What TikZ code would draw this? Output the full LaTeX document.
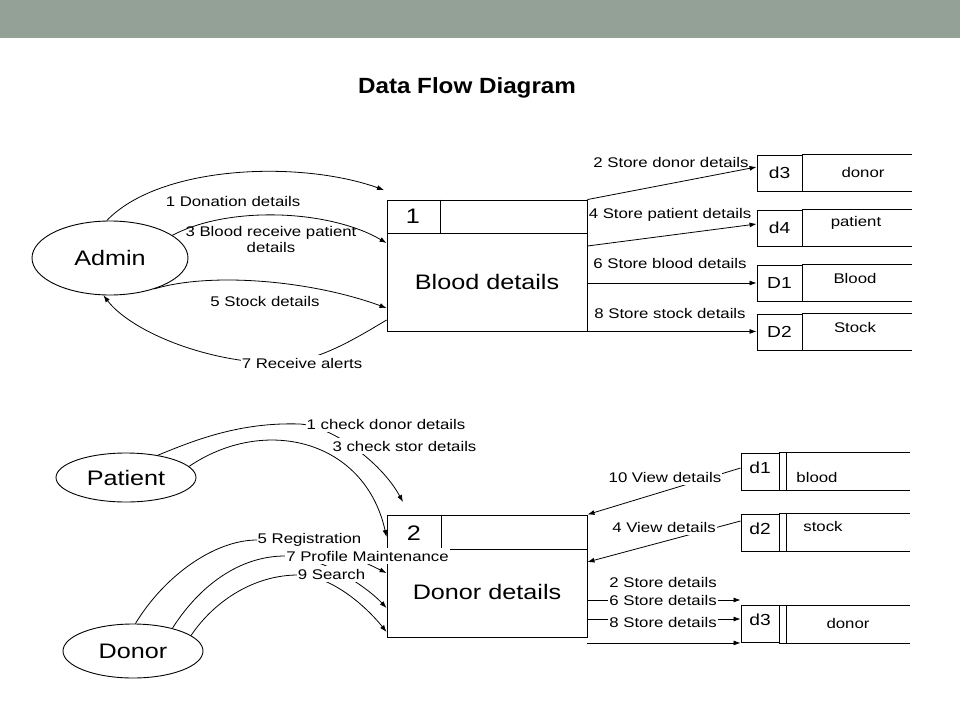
\documentclass[tikz,border=0pt]{standalone}
\usepackage{fontspec}
\setmainfont{Liberation Sans}[FakeStretch=1.2]
\newfontfamily\titlefont{Liberation Sans}[FakeStretch=1.1]
\usetikzlibrary{arrows.meta,shapes.geometric,backgrounds}
\definecolor{BarGreen}{RGB}{147,161,151}

\begin{document}
\begin{tikzpicture}[
        x=1pt, y=-1pt,
        >={Latex[length=7pt,width=5pt]},
        proc/.style={draw, line width=0.9pt, minimum width=200pt, inner sep=0pt},
        ent/.style={draw, ellipse, line width=0.9pt, inner sep=0pt, font=\fontsize{21}{24}\selectfont},
        storeid/.style={draw, line width=0.9pt, inner sep=0pt, font=\fontsize{16}{18}\selectfont},
        big/.style={font=\fontsize{21}{24}\selectfont},
        lab/.style={font=\fontsize{14}{16}\selectfont, inner sep=1pt},
        labw/.style={lab, fill=white, inner ysep=2.5pt},
        flow/.style={->, line width=0.8pt},
        edge/.style={line width=0.9pt}
    ]
    \useasboundingbox (0,0) rectangle (960,720);
    \node[font=\titlefont\fontsize{22}{24}\selectfont\bfseries] (title) at (467,88) {Data Flow Diagram};

    % top part
    \node[ent, minimum width=156pt, minimum height=74pt] (admin) at (110,258) {Admin};
    \node[proc, minimum height=131pt] (box1) at (487,265.5) {};
    \draw[edge] ([yshift=-34pt]box1.north west) -- ([yshift=-34pt]box1.north east);
    \draw[edge] ([xshift=54pt]box1.north west) -- ([xshift=54pt,yshift=-34pt]box1.north west);
    \node[big] (p1) at (413,216) {1};
    \node[big] (blood) at (487,282) {Blood details};
    \foreach \nm/\yy/\id in {sd3/173/d3, sd4/228/d4, sd1/283/D1, sd2/332/D2}{
        \node[storeid, minimum width=45pt, minimum height=36pt] (\nm) at (779.5,\yy) {\id};
        \draw[edge] (\nm.north east) -- ++(110,0) (\nm.south east) -- ++(110,0);
    }
    \node[lab] (sd3t) at (863,172) {donor};
    \node[lab] (sd4t) at (856,223) {patient};
    \node[lab] (sd1t) at (855,278) {Blood};
    \node[lab] (sd2t) at (855,327) {Stock};
    \coordinate (don) at (384,190);

    % bottom part
    \node[ent, minimum width=140pt, minimum height=49pt] (patient) at (126,477.5) {Patient};
    \node[ent, minimum width=140pt, minimum height=54pt] (donor) at (133,651) {Donor};
    \node[proc, minimum height=122pt] (box2) at (487,576) {};
    \draw[edge] ([yshift=-35pt]box2.north west) -- ([yshift=-35pt]box2.north east);
    \draw[edge] ([xshift=55pt]box2.north west) -- ([xshift=55pt,yshift=-35pt]box2.north west);
    \node[big] (p2) at (414,533) {2};
    \node[big] (dondet) at (487,592) {Donor details};
    \foreach \nm/\yy/\id in {bd1/471.5/d1, bd2/532.5/d2, bd3/624/d3}{
        \node[storeid, minimum width=38pt, minimum height=37pt, text depth=8pt] (\nm) at (760,\yy) {\id};
        \draw[edge] ([xshift=7pt]\nm.north east) -- ([xshift=7pt]\nm.south east)
            (\nm.north east) -- ++(131,0) (\nm.south east) -- ++(131,0);
    }
    \node[lab] (bd1t) at (817,477) {blood};
    \node[lab] (bd2t) at (823,526) {stock};
    \node[lab] (bd3t) at (848,623) {donor};
    \coordinate (chk) at (403,502);

    % flow labels
    \node[lab] (l1) at (233,201) {1 Donation details};
    \node[lab, align=center] (l3) at (271,239) {3 Blood receive patient\\details};
    \node[lab] (l5) at (265,301) {5 Stock details};
    \node[labw] (l7) at (302,363) {7 Receive alerts};
    \node[lab] (l2) at (671,162) {2 Store donor details};
    \node[lab] (l4) at (670,215) {4 Store patient details};
    \node[lab] (l6) at (670,263) {6 Store blood details};
    \node[lab] (l8) at (670,313) {8 Store stock details};
    \node[labw] (c1) at (386,424) {1 check donor details};
    \node[labw] (c3) at (404.5,446) {3 check stor details};
    \node[labw] (r5) at (309.5,540) {5 Registration};
    \node[labw] (r7) at (367.5,556) {7 Profile Maintenance};
    \node[labw] (r9) at (331.5,574) {9 Search};
    \node[labw] (v10) at (665,477) {10 View details};
    \node[labw] (v4) at (664,527) {4 View details};
    \node[lab] (s2) at (663,582) {2 Store details};
    \node[labw] (s6) at (663,600) {6 Store details};
    \node[labw] (s8) at (663,622) {8 Store details};

    \begin{scope}[on background layer]
        \fill[BarGreen] (0,0) rectangle (960,38);
        % admin flows
        \draw[flow] (admin.95) .. controls (160,165) and (300,160) .. (don);
        \draw[flow] (admin.20) .. controls (230,205) and (330,210) .. (box1.west |- 0,243);
        \draw[flow] (admin.-35) .. controls (210,272) and (310,280) .. (box1.west |- 0,308);
        \draw[flow] (box1.west |- 0,320) .. controls (345,345) and (310,365) .. (270,363)
            .. controls (200,360) and (130,330) .. (admin.-100);
        % stores of process 1
        \draw[flow] (box1.north east) -- (sd3.west |- 0,167);
        \draw[flow] (box1.east |- 0,246) -- (sd4.west |- 0,224);
        \draw[flow] (box1.east |- sd1.west) -- (sd1.west);
        \draw[flow] (box1.south east) -- (sd2.west |- box1.south east);
        % patient flows
        \draw[flow] (patient.35) .. controls (195,440) and (240,422) .. (300,424)
            .. controls (330,426) and (380,460) .. (chk);
        \draw[flow] (patient.10) .. controls (265,415) and (365,440) .. (box2.west |- 0,537);
        % donor flows
        \draw[flow] (donor.85) .. controls (165,575) and (215,540) .. (257,540)
            .. controls (320,540) and (360,560) .. (box2.west |- 0,573);
        \draw[flow] (donor.30) .. controls (200,585) and (240,556) .. (285,556)
            .. controls (320,556) and (365,585) .. (box2.west |- 0,608);
        \draw[flow] (donor.15) .. controls (215,600) and (255,575) .. (298,575)
            .. controls (330,575) and (365,605) .. (box2.west |- 0,632);
        % stores of process 2
        \draw[flow] (bd1.west |- 0,468) -- (box2.north east);
        \draw[flow] (bd2.west |- 0,521) -- (box2.east |- 0,562);
        \draw[flow] (box2.east |- 0,600) -- (bd3.west |- 0,600);
        \draw[flow] (box2.east |- 0,619) -- (bd3.west |- 0,619);
        \draw[flow] (box2.south east |- bd3.south west) -- (bd3.south west);
    \end{scope}
\end{tikzpicture}
\end{document}
